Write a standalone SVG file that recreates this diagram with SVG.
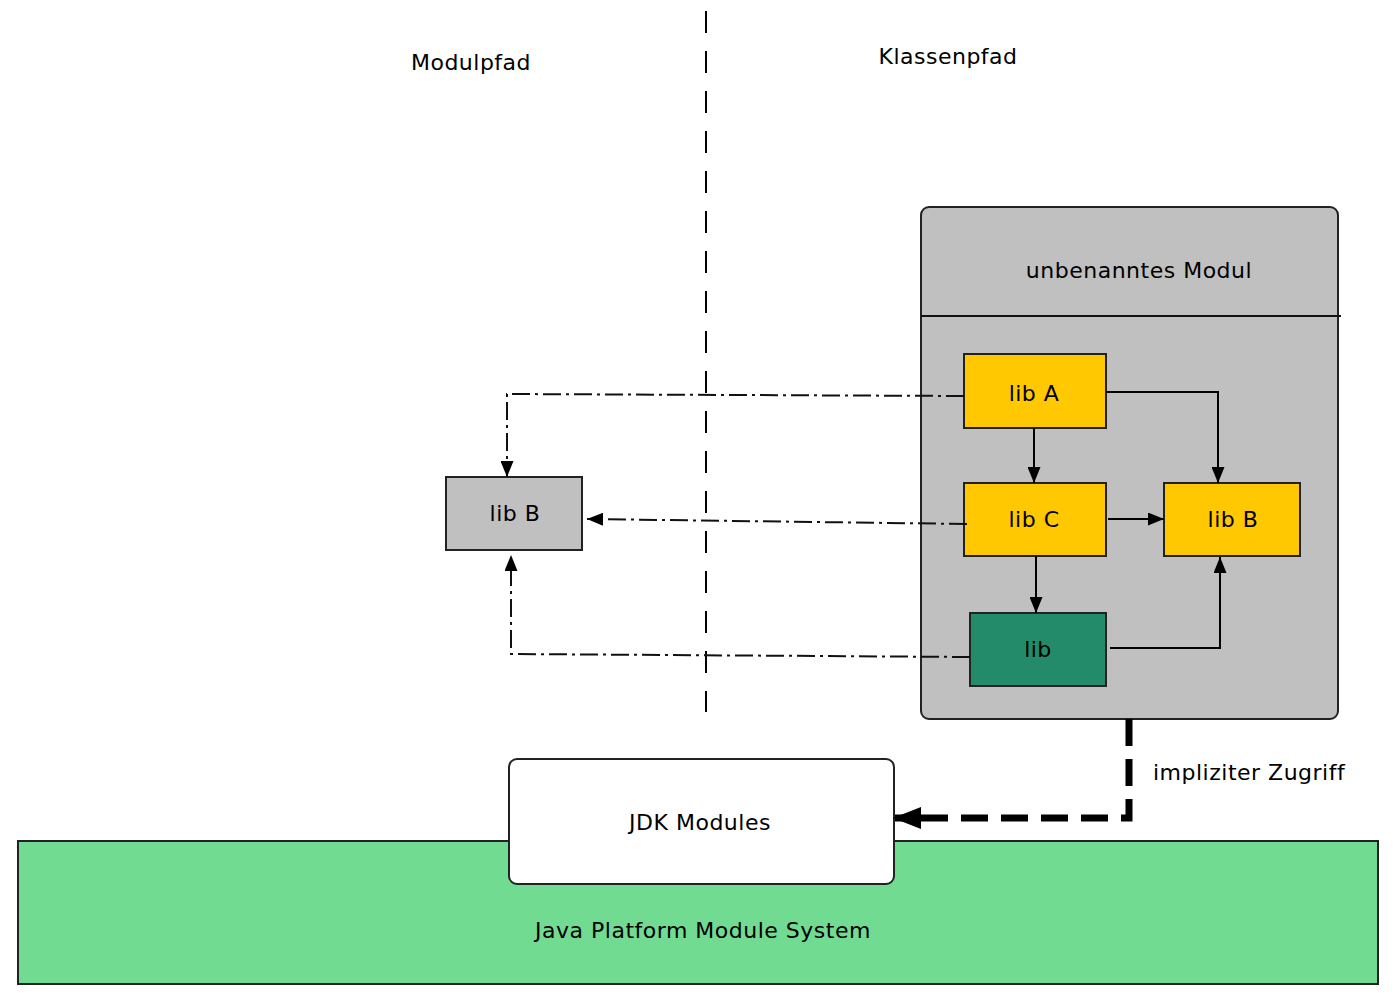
<svg xmlns="http://www.w3.org/2000/svg" width="1396" height="1000" viewBox="0 0 1396 1000">
  <style>
    text { font-family: "DejaVu Sans", "Liberation Sans", sans-serif; font-size: 22px; letter-spacing: 0.5px; fill: #000; }
    .c { text-anchor: middle; dominant-baseline: central; }
    .box { stroke: #222; stroke-width: 2; }
    .yellow { fill: #ffc800; }
    .grey { fill: #c0c0c0; }
    .solid { fill: none; stroke: #000; stroke-width: 2; }
    .dashdot { fill: none; stroke: #111; stroke-width: 2; stroke-dasharray: 18 5 3 5; }
  </style>
  <defs>
    <marker id="arrow" viewBox="0 0 16 13" refX="16" refY="6.5" markerWidth="16" markerHeight="13" markerUnits="userSpaceOnUse" orient="auto">
      <path d="M0,0 L16,6.5 L0,13 Z" fill="#000"/>
    </marker>
    <marker id="arrowBig" viewBox="0 0 28 22" refX="26" refY="11" markerWidth="28" markerHeight="22" markerUnits="userSpaceOnUse" orient="auto">
      <path d="M0,0 L28,11 L0,22 Z" fill="#000"/>
    </marker>
  </defs>

  <!-- module path / class path separator -->
  <line x1="706" y1="11" x2="706" y2="712" stroke="#000" stroke-width="2" stroke-dasharray="22 18"/>
  <text class="c" x="471" y="62">Modulpfad</text>
  <text class="c" x="948" y="56">Klassenpfad</text>

  <!-- platform layer -->
  <g id="jpms">
    <rect class="box" x="18" y="841" width="1360" height="143" fill="#71db92"/>
    <text class="c" x="703" y="930">Java Platform Module System</text>
  </g>
  <g id="jdk-modules">
    <rect class="box" x="509" y="759" width="385" height="125" rx="8" fill="#fff"/>
    <text class="c" x="700" y="822">JDK Modules</text>
  </g>

  <!-- unnamed module container -->
  <g id="unnamed-module">
    <rect class="box grey" x="921" y="207" width="417" height="512" rx="8"/>
    <line x1="921" y1="316" x2="1341" y2="316" stroke="#111" stroke-width="2"/>
    <text class="c" x="1139" y="270">unbenanntes Modul</text>
  </g>
  <g id="lib-a">
    <rect class="box yellow" x="964" y="354" width="142" height="74"/>
    <text class="c" x="1034" y="393">lib A</text>
  </g>
  <g id="lib-c">
    <rect class="box yellow" x="964" y="483" width="142" height="73"/>
    <text class="c" x="1034" y="519">lib C</text>
  </g>
  <g id="lib-b-classpath">
    <rect class="box yellow" x="1164" y="483" width="136" height="73"/>
    <text class="c" x="1233" y="519">lib B</text>
  </g>
  <g id="lib">
    <rect class="box" x="970" y="613" width="136" height="73" fill="#238b69"/>
    <text class="c" x="1038" y="649">lib</text>
  </g>
  <g id="lib-b-modulepath">
    <rect class="box grey" x="446" y="477" width="136" height="73"/>
    <text class="c" x="515" y="513">lib B</text>
  </g>

  <!-- dependencies -->
  <g id="connectors">
    <path class="solid" d="M1034,428 V483" marker-end="url(#arrow)"/>
    <path class="solid" d="M1106,392 H1218 V483" marker-end="url(#arrow)"/>
    <path class="solid" d="M1108,519 H1164" marker-end="url(#arrow)"/>
    <path class="solid" d="M1036,556 V613" marker-end="url(#arrow)"/>
    <path class="solid" d="M1110,648 H1220 V557" marker-end="url(#arrow)"/>

    <path class="dashdot" d="M964,396 L507,394 V477" marker-end="url(#arrow)"/>
    <path class="dashdot" d="M967,524 L587,519" marker-end="url(#arrow)"/>
    <path class="dashdot" d="M970,657 L511,654 V555" marker-end="url(#arrow)"/>

    <path d="M1129,719 V818 H895" fill="none" stroke="#000" stroke-width="7" stroke-dasharray="27 13" marker-end="url(#arrowBig)"/>
    <text x="1153" y="780">impliziter Zugriff</text>
  </g>
</svg>
